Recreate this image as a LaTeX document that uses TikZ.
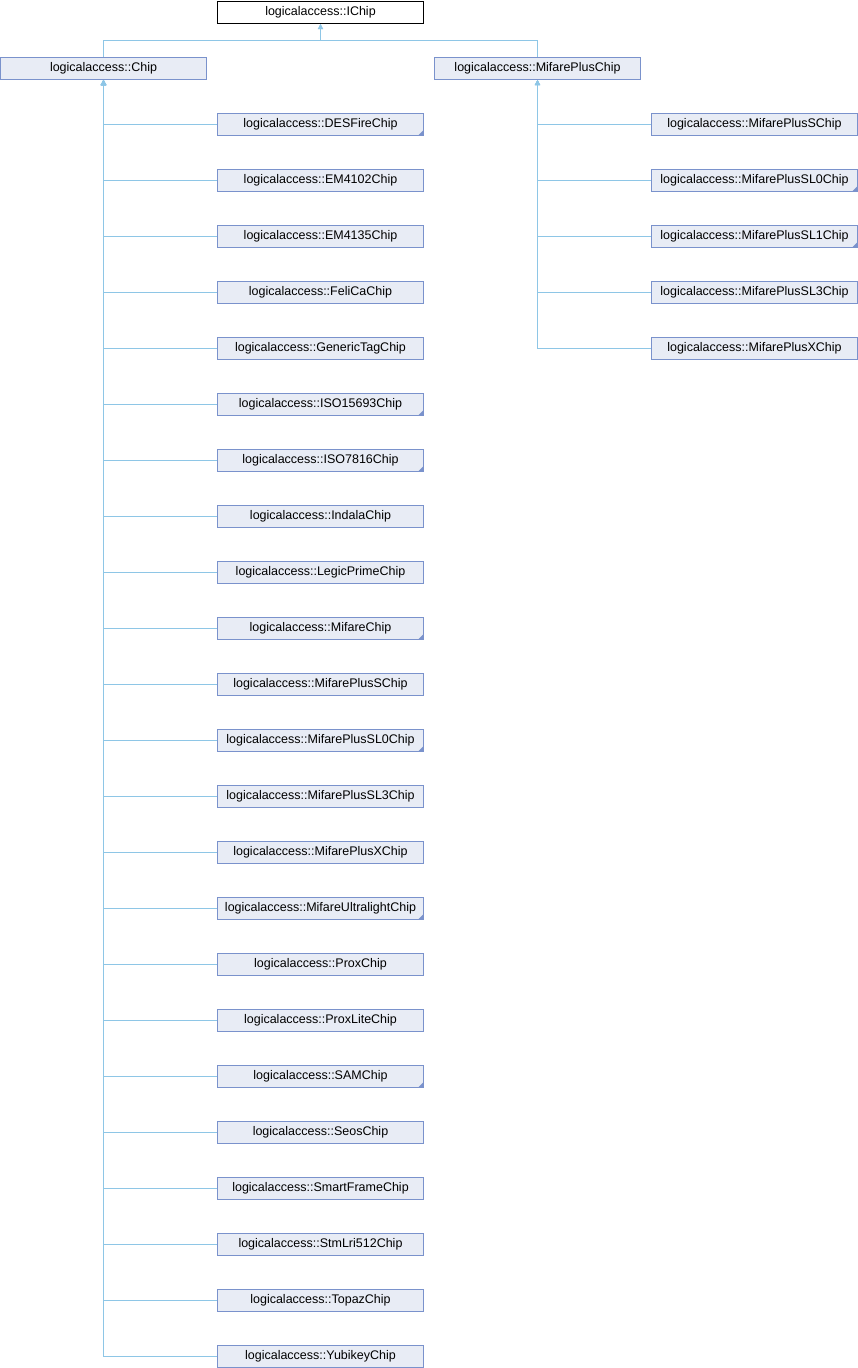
\documentclass[tikz,border=0pt]{standalone}
\usepackage{fontspec}
\setmainfont{Liberation Sans}
\usetikzlibrary{arrows.meta}
\definecolor{boxborder}{HTML}{7A92CC}
\definecolor{boxfill}{HTML}{E8ECF5}
\definecolor{edgecol}{HTML}{8EC6E6}
\tikzset{
  cls/.style={rectangle, draw=boxborder, fill=boxfill, line width=1pt, minimum width=206pt, minimum height=22pt, inner sep=0pt, font=\fontsize{12.5}{14}\selectfont},
  rootcls/.style={cls, draw=black, fill=white},
  inh/.style={draw=edgecol, line width=1pt, -{Triangle[length=5pt,width=5pt,fill=edgecol]}},
}
\newcommand{\cornermark}[1]{\fill[boxborder] ([xshift=-6pt,yshift=0.5pt]#1.south east) -- ([xshift=-0.5pt,yshift=0.5pt]#1.south east) -- ([xshift=-0.5pt,yshift=6pt]#1.south east) -- cycle;}
\begin{document}
\begin{tikzpicture}[x=1pt,y=-1pt]
\useasboundingbox (0,0) rectangle (858,1368);
\node[rootcls] (ichip) at (320.5,12.5) {logicalaccess::IChip};
\node[cls] (chip) at (103.5,68.5) {logicalaccess::Chip};
\node[cls] (mpc) at (537.5,68.5) {logicalaccess::MifarePlusChip};
\draw[inh] (chip.north) -- ++(0,-17) -| (ichip.south);
\draw[inh] (mpc.north) -- ++(0,-17) -| (ichip.south);
\foreach \name/\mark [count=\k from 0] in {DESFireChip/1, EM4102Chip/0, EM4135Chip/0, FeliCaChip/0, GenericTagChip/0, ISO15693Chip/1, ISO7816Chip/1, IndalaChip/0, LegicPrimeChip/0, MifareChip/1, MifarePlusSChip/0, MifarePlusSL0Chip/1, MifarePlusSL3Chip/0, MifarePlusXChip/0, MifareUltralightChip/1, ProxChip/0, ProxLiteChip/0, SAMChip/1, SeosChip/0, SmartFrameChip/0, StmLri512Chip/0, TopazChip/0, YubikeyChip/0}{
  \node[cls] (l\k) at (320.5,124.5+56*\k) {logicalaccess::\name};
  \draw[inh] (l\k.west) -| (chip.south);
  \ifnum\mark=1 \cornermark{l\k}\fi
}
\foreach \name/\mark [count=\k from 0] in {MifarePlusSChip/0, MifarePlusSL0Chip/1, MifarePlusSL1Chip/1, MifarePlusSL3Chip/0, MifarePlusXChip/0}{
  \node[cls] (r\k) at (754.5,124.5+56*\k) {logicalaccess::\name};
  \draw[inh] (r\k.west) -| (mpc.south);
  \ifnum\mark=1 \cornermark{r\k}\fi
}
\end{tikzpicture}
\end{document}
